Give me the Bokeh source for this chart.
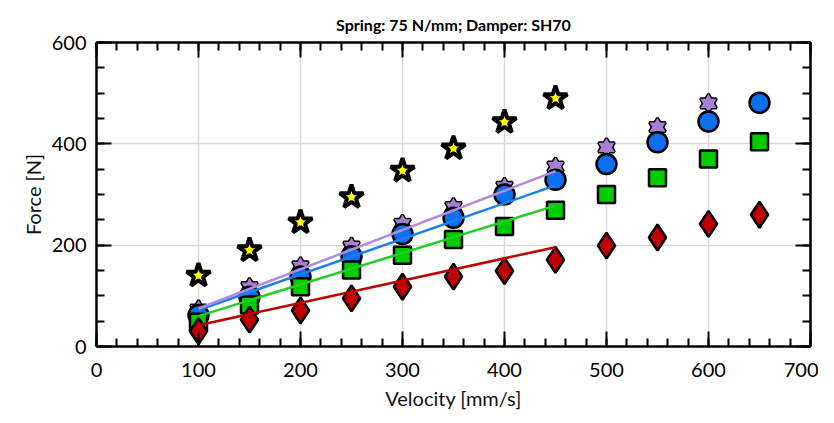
from bokeh.plotting import figure
from bokeh.models import LinearAxis, SingleIntervalTicker, Range1d, CustomJSTickFormatter
from bokeh.embed import file_html
from bokeh.resources import INLINE

# ---- data ----
velocity = [100, 150, 200, 250, 300, 350, 400, 450, 500, 550, 600, 650]
force_red = [30, 53, 71, 95, 118, 138, 149, 171, 199, 215, 242, 260]
force_green = [48, 82, 118, 151, 180, 211, 237, 269, 300, 333, 370, 404]
force_blue = [62, 98, 138, 178, 222, 254, 300, 329, 360, 403, 444, 481]
velocity_purple = [100, 150, 200, 250, 300, 350, 400, 450, 500, 550, 600]
force_purple = [73, 117, 158, 197, 242, 275, 315, 355, 393, 433, 480]
velocity_yellow = [100, 150, 200, 250, 300, 350, 400, 450]
force_yellow = [140, 190, 245, 295, 347, 391, 443, 490]
fit_velocity = [100, 450]
fit_red = [42, 196]
fit_green = [60, 278]
fit_blue = [72, 318]
fit_purple = [75, 346]

FONT = "Lato"

p = figure(width=818, height=412, output_backend="svg", toolbar_location=None,
           x_range=Range1d(0, 700), y_range=Range1d(0, 600),
           min_border_left=96, min_border_right=8, min_border_top=42, min_border_bottom=40,
           title="Spring: 75 N/mm; Damper: SH70")
p.title.text_font = FONT
p.title.text_font_size = "16px"
p.title.text_font_style = "bold"
p.title.text_color = "black"
p.title.align = "center"
p.title.standoff = 17
p.outline_line_color = None
p.background_fill_color = "white"
p.border_fill_color = "white"

xt = SingleIntervalTicker(interval=100, num_minor_ticks=5)
yt = SingleIntervalTicker(interval=200, num_minor_ticks=4)

def style_axis(ax, labels=True):
    ax.axis_line_width = 2.5
    ax.axis_line_color = "black"
    ax.major_tick_in = 15
    ax.major_tick_out = 0
    ax.minor_tick_in = 8
    ax.minor_tick_out = 0
    ax.major_tick_line_width = 2
    ax.minor_tick_line_width = 2
    ax.major_tick_line_color = "black"
    ax.minor_tick_line_color = "black"
    ax.major_label_text_font = FONT
    ax.major_label_text_font_size = "20px"
    ax.major_label_text_color = "black"
    ax.axis_label_text_font = FONT
    ax.axis_label_text_font_size = "20px"
    ax.axis_label_text_font_style = "normal"
    ax.axis_label_text_color = "#111111"
    if not labels:
        ax.formatter = CustomJSTickFormatter(code="return '';")
        ax.major_label_standoff = 0

p.xaxis.ticker = xt
p.yaxis.ticker = yt
style_axis(p.xaxis[0])
style_axis(p.yaxis[0])
p.xaxis.axis_label = "Velocity [mm/s]"
p.yaxis.axis_label = "Force [N]"
p.xaxis.major_label_standoff = 16
p.xaxis.axis_label_standoff = 6
p.yaxis.major_label_standoff = 10
p.yaxis.axis_label_standoff = 4

top = LinearAxis(ticker=SingleIntervalTicker(interval=100, num_minor_ticks=5))
style_axis(top, labels=False)
p.add_layout(top, "above")
right = LinearAxis(ticker=SingleIntervalTicker(interval=200, num_minor_ticks=4))
style_axis(right, labels=False)
p.add_layout(right, "right")

p.xgrid.ticker = xt
p.ygrid.ticker = yt
p.xgrid.grid_line_color = "#d9d9d9"
p.ygrid.grid_line_color = "#d9d9d9"
p.xgrid.grid_line_width = 1.5
p.ygrid.grid_line_width = 1.5

# markers
p.scatter(velocity_yellow, force_yellow, marker="star", size=25, fill_color="#ffff00",
          line_color="black", line_width=4)
# hexagram: two triangles, outline first then fill on top
for mk in ("triangle", "inverted_triangle"):
    p.scatter(velocity_purple, force_purple, marker=mk, size=16, fill_color="#a77fd4",
              line_color="black", line_width=3)
for mk in ("triangle", "inverted_triangle"):
    p.scatter(velocity_purple, force_purple, marker=mk, size=16, fill_color="#a77fd4",
              line_color=None)
p.scatter(velocity, force_blue, marker="circle", size=20, fill_color="#0a6ff0",
          line_color="black", line_width=2.5)
p.scatter(velocity, force_green, marker="square", size=17, fill_color="#00cc00",
          line_color="black", line_width=2.5)
p.scatter(velocity, force_red, marker="diamond", size=26, fill_color="#c00000",
          line_color="black", line_width=2.5)

# fit lines
p.line(fit_velocity, fit_red, line_color="#c00000", line_width=2.5)
p.line(fit_velocity, fit_green, line_color="#22d022", line_width=2.5)
p.line(fit_velocity, fit_blue, line_color="#1a7ff0", line_width=2.5)
p.line(fit_velocity, fit_purple, line_color="#b38ae0", line_width=2.5)

open("out.html", "w").write(file_html(p, INLINE))
